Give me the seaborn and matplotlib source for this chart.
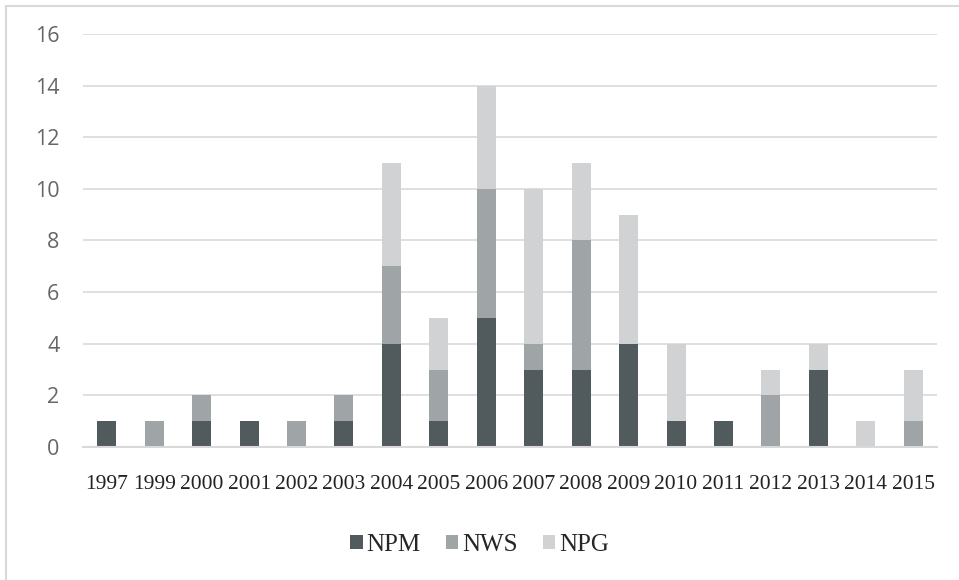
import matplotlib
matplotlib.use("Agg")
import matplotlib.pyplot as plt
import seaborn as sns
import numpy as np
import pandas as pd
from matplotlib.patches import Patch
from matplotlib.lines import Line2D

years = ["1997", "1999", "2000", "2001", "2002", "2003", "2004", "2005", "2006",
         "2007", "2008", "2009", "2010", "2011", "2012", "2013", "2014", "2015"]
npm = [1, 0, 1, 1, 0, 1, 4, 1, 5, 3, 3, 4, 1, 1, 0, 3, 0, 0]
nws = [0, 1, 1, 0, 1, 1, 3, 2, 5, 1, 5, 0, 0, 0, 2, 0, 0, 1]
npg = [0, 0, 0, 0, 0, 0, 4, 2, 4, 6, 3, 5, 3, 0, 1, 1, 1, 2]

series = ["NPM", "NWS", "NPG"]
colors = ["#515b5d", "#9fa5a7", "#d1d2d4"]

df = pd.DataFrame({"year": years, "NPM": npm, "NWS": nws, "NPG": npg})

sns.set_style("white")
fig = plt.figure(figsize=(9.59, 5.8), dpi=100)
ax = fig.add_axes([0.0866, 0.2293, 0.8904, 0.7121])

bottom = np.zeros(len(years))
for name, col in zip(series, colors):
    sns.barplot(data=df, x="year", y=name, color=col, width=0.4,
                bottom=bottom, ax=ax, saturation=1, linewidth=0)
    bottom = bottom + df[name].values

ax.set_ylim(0, 16)
ax.set_xlim(-0.5, len(years) - 0.5)
ax.set_yticks(range(0, 17, 2))
ax.yaxis.grid(True, color="#d9d9d9", linewidth=1.2)
ax.set_axisbelow(True)
for s in ["top", "right", "left"]:
    ax.spines[s].set_visible(False)
ax.spines["bottom"].set_color("#d9d9d9")
ax.spines["bottom"].set_linewidth(1.5)
ax.set_xlabel("")
ax.set_ylabel("")
ax.tick_params(axis="both", length=0)
ax.tick_params(axis="y", pad=17, labelsize=15.5, labelcolor="#666666")
ax.tick_params(axis="x", pad=20, labelsize=15.5)
for lab in ax.get_yticklabels():
    lab.set_family("Open Sans")
for lab in ax.get_xticklabels():
    lab.set_family("Liberation Serif")
    lab.set_color("#222222")

handles = [Patch(facecolor=c, edgecolor="none", label=n) for n, c in zip(series, colors)]
fig.legend(handles=handles, loc="center", bbox_to_anchor=(0.5, 0.06), ncol=3,
           frameon=False, handlelength=0.5, handleheight=0.5, handletextpad=0.15,
           columnspacing=1.0, prop={"family": "Liberation Serif", "size": 18})

# outer chart frame (top and left edges)
fig.add_artist(Line2D([0.006, 1.0], [0.99, 0.99], color="#d9d9d9", linewidth=1.5,
                      transform=fig.transFigure))
fig.add_artist(Line2D([0.006, 0.006], [0.0, 0.99], color="#d9d9d9", linewidth=1.5,
                      transform=fig.transFigure))

fig.savefig("out.png", dpi=100)
